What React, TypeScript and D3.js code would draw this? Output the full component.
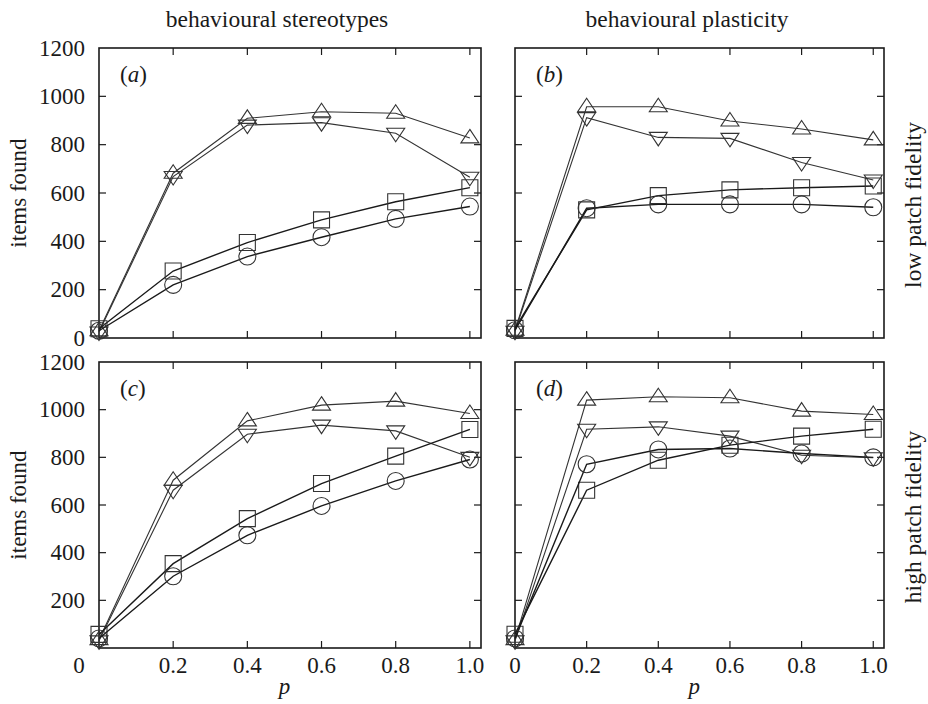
import React, { useEffect, useRef } from "react";
import * as d3 from "d3";

// x values shared by all panels
const pValues = [0, 0.2, 0.4, 0.6, 0.8, 1.0];
const xTickValues = [0.2, 0.4, 0.6, 0.8, 1.0];
const xTickLabels = ["0", "0.2", "0.4", "0.6", "0.8", "1.0"];
const yTickValues = [0, 200, 400, 600, 800, 1000, 1200];
const colTitles = ["behavioural stereotypes", "behavioural plasticity"];
const rowTitles = ["low patch fidelity", "high patch fidelity"];

// (a) stereotypes, low fidelity
const stereoLowUp = [30, 682, 909, 936, 930, 828];
const stereoLowDown = [25, 668, 881, 891, 847, 665];
const stereoLowSquare = [38, 277, 395, 489, 564, 622];
const stereoLowCircle = [30, 220, 337, 417, 493, 544];
// (b) plasticity, low fidelity
const plastLowUp = [32, 957, 957, 898, 865, 820];
const plastLowDown = [28, 912, 830, 826, 726, 654];
const plastLowSquare = [40, 530, 589, 613, 622, 629];
const plastLowCircle = [32, 537, 553, 553, 553, 541];
// (c) stereotypes, high fidelity
const stereoHighUp = [35, 704, 953, 1019, 1036, 984];
const stereoHighDown = [30, 662, 897, 935, 911, 800];
const stereoHighSquare = [57, 354, 543, 690, 805, 917];
const stereoHighCircle = [40, 301, 473, 596, 701, 791];
// (d) plasticity, high fidelity
const plastHighUp = [35, 1040, 1054, 1050, 994, 980];
const plastHighDown = [30, 918, 928, 889, 809, 798];
const plastHighSquare = [58, 662, 788, 851, 889, 918];
const plastHighCircle = [40, 771, 833, 837, 816, 800];

const panels = [
  { letter: "a", col: 0, row: 0, series: [stereoLowUp, stereoLowDown, stereoLowSquare, stereoLowCircle] },
  { letter: "b", col: 1, row: 0, series: [plastLowUp, plastLowDown, plastLowSquare, plastLowCircle] },
  { letter: "c", col: 0, row: 1, series: [stereoHighUp, stereoHighDown, stereoHighSquare, stereoHighCircle] },
  { letter: "d", col: 1, row: 1, series: [plastHighUp, plastHighDown, plastHighSquare, plastHighCircle] },
];
const markerKinds = ["up", "down", "square", "circle"];

const colX = [[99, 481], [515, 884]];
const rowY = [[338, 48], [648, 362]];

const FONT = "'Liberation Serif', 'Times New Roman', serif";
const FS = 23;
const INK = "#1a1a1a";

function markerPath(kind) {
  if (kind === "up") return "M0,-8.5L9,5L-9,5Z";
  if (kind === "down") return "M0,8.5L9,-5L-9,-5Z";
  if (kind === "square") return "M-8,-8H8V8H-8Z";
  return "M8.5,0A8.5,8.5 0 1,1 -8.5,0A8.5,8.5 0 1,1 8.5,0Z";
}

export default function App() {
  const ref = useRef(null);

  useEffect(() => {
    const svg = d3.select(ref.current);
    svg.selectAll("*").remove();

    panels.forEach(panel => {
      const x = d3.scaleLinear().domain([0, 1.03]).range(colX[panel.col]);
      const y = d3.scaleLinear().domain([0, 1200]).range(rowY[panel.row]);
      const g = svg.append("g");
      const [x0, x1] = x.range();
      const [y0, y1] = y.range();

      // ticks on all four sides, pointing inward
      const inner = [200, 400, 600, 800, 1000];
      g.selectAll(".tl").data(inner).enter().append("line")
        .attr("x1", x0).attr("x2", x0 + 7).attr("y1", d => y(d)).attr("y2", d => y(d))
        .attr("stroke", INK).attr("stroke-width", 1.2);
      g.selectAll(".tr").data(inner).enter().append("line")
        .attr("x1", x1).attr("x2", x1 - 7).attr("y1", d => y(d)).attr("y2", d => y(d))
        .attr("stroke", INK).attr("stroke-width", 1.2);
      g.selectAll(".tb").data(xTickValues).enter().append("line")
        .attr("x1", d => x(d)).attr("x2", d => x(d)).attr("y1", y0).attr("y2", y0 - 7)
        .attr("stroke", INK).attr("stroke-width", 1.2);
      g.selectAll(".tt").data(xTickValues).enter().append("line")
        .attr("x1", d => x(d)).attr("x2", d => x(d)).attr("y1", y1).attr("y2", y1 + 7)
        .attr("stroke", INK).attr("stroke-width", 1.2);

      g.append("rect")
        .attr("x", x0).attr("y", y1).attr("width", x1 - x0).attr("height", y0 - y1)
        .attr("fill", "none").attr("stroke", INK).attr("stroke-width", 1.6);

      // y labels on left column
      if (panel.col === 0) {
        const ys = panel.row === 0 ? yTickValues : yTickValues.slice(1);
        g.selectAll(".yl").data(ys).enter().append("text")
          .attr("x", x0 - 14).attr("y", d => y(d)).attr("dy", "0.34em")
          .attr("text-anchor", "end").attr("font-family", FONT).attr("font-size", FS).attr("fill", INK)
          .text(d => d);
        g.append("text")
          .attr("transform", `translate(26,${(y0 + y1) / 2}) rotate(-90)`)
          .attr("text-anchor", "middle").attr("font-family", FONT).attr("font-size", FS).attr("fill", INK)
          .text("items found");
      }

      // x labels on bottom row
      if (panel.row === 1) {
        g.selectAll(".xl").data(pValues).enter().append("text")
          .attr("x", (d, i) => (i === 0 && panel.col === 0 ? x0 - 20 : x(d)))
          .attr("y", y0 + 25)
          .attr("text-anchor", "middle").attr("font-family", FONT).attr("font-size", FS).attr("fill", INK)
          .text((d, i) => xTickLabels[i]);
        g.append("text")
          .attr("x", x(0.5)).attr("y", 694)
          .attr("text-anchor", "middle").attr("font-family", FONT).attr("font-size", FS)
          .attr("font-style", "italic").attr("fill", INK)
          .text("p");
      }

      if (panel.row === 0) {
        g.append("text")
          .attr("x", x(0.48)).attr("y", 27)
          .attr("text-anchor", "middle").attr("font-family", FONT).attr("font-size", FS + 0.5).attr("fill", INK)
          .text(colTitles[panel.col]);
      }
      if (panel.col === 1) {
        g.append("text")
          .attr("transform", `translate(921,${(y0 + y1) / 2 + 12}) rotate(-90)`)
          .attr("text-anchor", "middle").attr("font-family", FONT).attr("font-size", FS + 0.5).attr("fill", INK)
          .text(rowTitles[panel.row]);
      }

      // panel letter
      const lab = g.append("text")
        .attr("x", x0 + 21).attr("y", y1 + 34)
        .attr("font-family", FONT).attr("font-size", FS).attr("fill", INK);
      lab.append("tspan").text("(");
      lab.append("tspan").attr("font-style", "italic").text(panel.letter);
      lab.append("tspan").text(")");

      const line = d3.line()
        .x((d, i) => x(pValues[i]))
        .y(d => y(d));

      panel.series.forEach((vals, si) => {
        g.append("path")
          .attr("d", line(vals))
          .attr("fill", "none")
          .attr("stroke", si < 2 ? "#333" : "#1a1a1a")
          .attr("stroke-width", si < 2 ? 1.1 : 1.4);
        g.selectAll(".m" + si).data(vals).enter().append("path")
          .attr("transform", (d, i) => `translate(${x(pValues[i])},${y(d)})`)
          .attr("d", markerPath(markerKinds[si]))
          .attr("fill", "none")
          .attr("stroke", "#333")
          .attr("stroke-width", 1.1);
      });
    });
  }, []);

  return (
    <svg
      ref={ref}
      width={928}
      height={704}
      style={{ position: "absolute", left: 0, top: 0, background: "#fff" }}
    />
  );
}
